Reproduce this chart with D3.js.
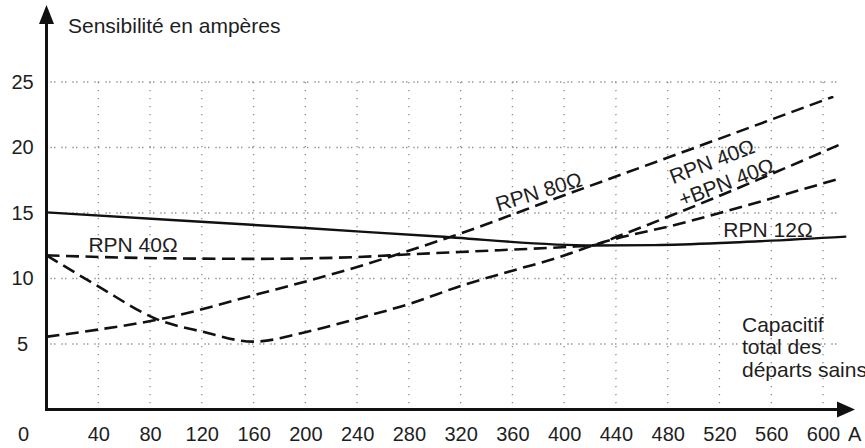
<!DOCTYPE html>
<html>
<head>
<meta charset="utf-8">
<script src="https://cdn.jsdelivr.net/npm/d3@7"></script>
<style>
  body { margin: 0; background: #fff; }
  text { font-family: 'Liberation Sans', Arial, sans-serif; fill: #1e1e1e; }
</style>
</head>
<body>
<div id="graph"></div>
<script>
const w = 865;
const h = 448;

// tick values
const xTicks = [40, 80, 120, 160, 200, 240, 280, 320, 360, 400, 440, 480, 520, 560, 600];
const yTicks = [5, 10, 15, 20, 25];

const rpn12 = [[0, 15.05], [100, 14.45], [200, 13.85], [300, 13.22], [422, 12.52],
               [470, 12.55], [530, 12.75], [618, 13.2]];
const rpn80 = [[0, 5.55], [40, 6.1], [86, 6.86], [165, 8.85], [240, 10.88], [281, 12.16],
               [312, 13.17], [400, 16.35], [500, 19.95], [608, 23.88]];
const rpn40 = [[0, 11.77], [86, 11.55], [165, 11.5], [240, 11.64], [281, 11.85], [350, 12.16],
               [402, 12.41], [422.6, 12.54], [441, 13.2], [490, 15.1], [612, 20.18]];
const rpnBpn40 = [[0, 11.77], [40, 9.4], [86, 6.86], [120, 5.95], [160, 5.18], [200, 5.9],
                  [240, 6.93], [281, 8.08], [322, 9.5], [360, 10.6], [400, 11.75],
                  [422.6, 12.54], [490, 14.2], [613, 17.64]];

const xScale = d3.scaleLinear()
                 .domain([0, 600])
                 .range([46.5, 823]);

const yScale = d3.scaleLinear()
                 .domain([0, 25])
                 .range([409.5, 82]);

const svg = d3.select('#graph')
              .append('svg')
              .attr('width', w)
              .attr('height', h);

// dotted grid
svg.append('g')
   .selectAll('line')
   .data(yTicks)
   .enter()
   .append('line')
   .attr('x1', xScale(3))
   .attr('x2', xScale(611))
   .attr('y1', (d) => yScale(d))
   .attr('y2', (d) => yScale(d))
   .attr('stroke', '#8a8a8a')
   .attr('stroke-width', 1.3)
   .attr('stroke-dasharray', '1.3 2.4 1.3 6');

svg.append('g')
   .selectAll('line')
   .data(xTicks)
   .enter()
   .append('line')
   .attr('x1', (d) => xScale(d))
   .attr('x2', (d) => xScale(d))
   .attr('y1', yScale(25))
   .attr('y2', yScale(0))
   .attr('stroke', '#8a8a8a')
   .attr('stroke-width', 1.3)
   .attr('stroke-dasharray', '1.3 6.7');

// tick labels through the d3 axes (no lines)
const xAxis = svg.append('g')
   .attr('transform', 'translate(0,' + yScale(0) + ')')
   .call(d3.axisBottom(xScale).tickValues(xTicks).tickSize(0).tickPadding(17).tickFormat(d3.format('d')));
xAxis.select('.domain').remove();
xAxis.selectAll('text')
     .style('font-size', '20px')
     .style('font-family', "'Liberation Sans', Arial, sans-serif")
     .attr('fill', '#1e1e1e');

const yAxis = svg.append('g')
   .attr('transform', 'translate(' + xScale(0) + ',0)')
   .call(d3.axisLeft(yScale).tickValues(yTicks).tickSize(0).tickFormat(d3.format('d')));
yAxis.select('.domain').remove();
yAxis.selectAll('text')
     .attr('x', -24)
     .attr('text-anchor', 'middle')
     .style('font-size', '20px')
     .style('font-family', "'Liberation Sans', Arial, sans-serif")
     .attr('fill', '#1e1e1e');

// origin and unit
svg.append('text')
   .attr('x', xScale(0) - 23)
   .attr('y', yScale(0) + 31)
   .attr('text-anchor', 'middle')
   .style('font-size', '20px')
   .text('0');

svg.append('text')
   .attr('x', xScale(600) + 25)
   .attr('y', yScale(0) + 31)
   .style('font-size', '20px')
   .text('A');

// curves
const line = d3.line()
               .x((d) => xScale(d[0]))
               .y((d) => yScale(d[1]))
               .curve(d3.curveMonotoneX);

svg.append('path')
   .datum(rpn12)
   .attr('fill', 'none')
   .attr('stroke', '#111')
   .attr('stroke-width', 2.4)
   .attr('d', line);

[rpn80, rpn40, rpnBpn40].forEach(function (s) {
  svg.append('path')
     .datum(s)
     .attr('fill', 'none')
     .attr('stroke', '#111')
     .attr('stroke-width', 2.6)
     .attr('stroke-dasharray', '13 6.5')
     .attr('d', line);
});

// axes with arrows
const x0 = xScale(0);
const y0 = yScale(0);
const xEnd = 855;
const yEnd = 5;

svg.append('line')
   .attr('x1', x0).attr('y1', y0)
   .attr('x2', xEnd - 10).attr('y2', y0)
   .attr('stroke', '#111')
   .attr('stroke-width', 3);

svg.append('line')
   .attr('x1', x0).attr('y1', y0 + 1.5)
   .attr('x2', x0).attr('y2', yEnd + 10)
   .attr('stroke', '#111')
   .attr('stroke-width', 3);

svg.append('path')
   .attr('d', 'M' + xEnd + ',' + y0 + 'L' + (xEnd - 18) + ',' + (y0 - 8) + 'L' + (xEnd - 18) + ',' + (y0 + 8) + 'Z')
   .attr('fill', '#111');

svg.append('path')
   .attr('d', 'M' + x0 + ',' + yEnd + 'L' + (x0 - 7.5) + ',' + (yEnd + 19) + 'L' + (x0 + 7.5) + ',' + (yEnd + 19) + 'Z')
   .attr('fill', '#111');

// labels
svg.append('text')
   .attr('x', 68)
   .attr('y', 33)
   .style('font-size', '21px')
   .text('Sensibilité en ampères');

function label(txt, xv, yv, angle) {
  const px = xScale(xv);
  const py = yScale(yv);
  svg.append('text')
     .attr('transform', 'translate(' + px + ',' + py + ')rotate(' + angle + ')')
     .style('font-size', '21px')
     .text(txt);
}

label('RPN 40Ω', 32.4, 12.0, 0);
label('RPN 80Ω', 349, 15.1, -17);
label('RPN 40Ω', 484, 17.2, -21);
label('+BPN 40Ω', 491, 15.45, -21);
label('RPN 12Ω', 523, 13.2, 0);

const capLines = ['Capacitif', 'total des', 'départs sains'];
svg.append('g')
   .selectAll('text')
   .data(capLines)
   .enter()
   .append('text')
   .attr('x', 742)
   .attr('y', (d, i) => 332 + i * 22.3)
   .style('font-size', '21px')
   .text((d) => d);
</script>
</body>
</html>
